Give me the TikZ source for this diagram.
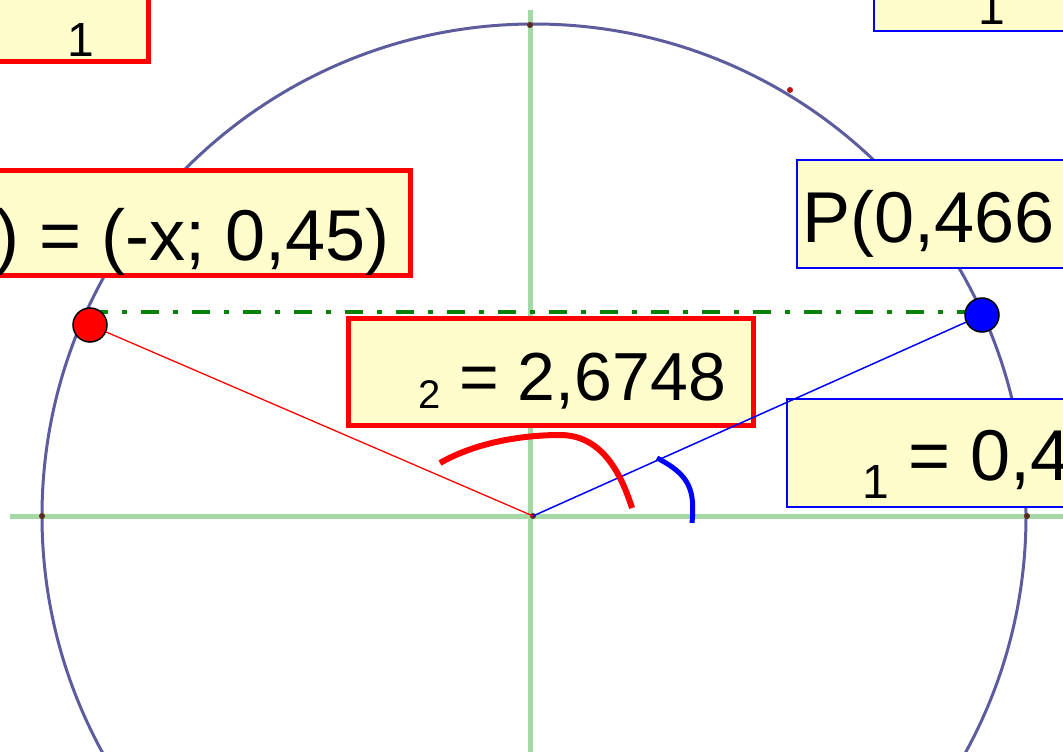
\documentclass[tikz,border=0pt]{standalone}
\usepackage{fontspec}
\setmainfont{Liberation Sans}
\usetikzlibrary{positioning}
\definecolor{paper}{HTML}{FFFDCC}
\definecolor{rim}{HTML}{5C5C9E}
\definecolor{axisgreen}{HTML}{A4D8A4}
\definecolor{chordgreen}{HTML}{0A820A}
\definecolor{tick}{HTML}{5A2A24}
\newcommand{\lowidx}[3]{\raisebox{-#1}{\fontsize{#2}{#2}\selectfont #3}}

\begin{document}
\begin{tikzpicture}[x=1pt,y=-1pt,
  rbox/.style={draw=red,line width=5pt,fill=paper,inner sep=0pt},
  bbox/.style={draw=blue,line width=2pt,fill=paper,inner sep=0pt},
  txt/.style={inner sep=0pt,font=\fontsize{72}{80}\selectfont},
  pnt/.style={circle,draw=black,line width=1.5pt,minimum size=34pt,inner sep=0pt},
  ptmark/.style={circle,fill=tick,minimum size=6pt,inner sep=0pt},
  axisline/.style={draw=axisgreen,line width=5pt},
  chordline/.style={draw=chordgreen,line width=4pt,dash pattern=on 18pt off 14pt on 5pt off 14pt}
]
\useasboundingbox (0,0) rectangle (1063,752);
\clip (0,0) rectangle (1063,752);

% axes and unit circle
\draw[axisline] (10,516) -- (1063,516);
\draw[axisline] (530,10) -- (530,752);
\draw[rim,line width=3pt] (534,516) circle[radius=492];
\node[ptmark] (top) at (530,25) {};
\node[ptmark] (left) at (42,516) {};
\node[ptmark] (right) at (1027,516) {};
\node[ptmark,fill=red!60!tick] (arcpt) at (790,90) {};
\node[ptmark] (O) at (533,516) {};

% the two points
\coordinate (rpc) at (90,325);
\coordinate (bpc) at (982,315);
\draw[chordline] (rpc |- 0,312) -- (bpc |- 0,312);

% labels
\node[rbox,minimum width=300pt,minimum height=150pt,anchor=south east] (boxa) at (150.5,64.5) {};
\node[txt,anchor=base west] (texta) at (67,57) {\fontsize{48}{50}\selectfont 1};
\node[bbox,minimum width=300pt,minimum height=100pt,anchor=south west] (boxb) at (873,32) {};
\node[txt,anchor=base west] (textb) at (978,25) {\fontsize{48}{50}\selectfont 1};
\node[rbox,minimum width=500pt,minimum height=105pt,anchor=north east] (boxc) at (412.5,167.5) {};
\node[txt,anchor=base east] (textc) at (390,260) {) = (-x; 0,45)};
\node[bbox,minimum width=400pt,minimum height=108pt,anchor=north west] (boxd) at (796,159) {};
\node[txt,anchor=base west] (textd) at (802,242) {P(0,466};
\node[rbox,minimum width=405pt,minimum height=107pt,anchor=north west] (boxe) at (345.5,315.5) {};
\node[txt,anchor=base west,font=\fontsize{68}{80}\selectfont] (texte) at (418,400) {\lowidx{8pt}{40}{2} = 2,6748};
\node[bbox,minimum width=400pt,minimum height=108pt,anchor=north west] (boxf) at (786,398) {};
\node[txt,anchor=base west] (textf) at (862,480) {\lowidx{18pt}{48}{1} = 0,4};

% radii and angle arcs
\node[pnt,fill=red] (rp) at (rpc) {};
\node[pnt,fill=blue] (bp) at (bpc) {};
\draw[red,line width=1.3pt] (O.center) -- (rp);
\draw[blue,line width=1.5pt] (O.center) -- (bp);
\draw[red,line width=6pt] (440,463) .. controls (480,440) and (530,435) .. (560,435)
  .. controls (600,435) and (620,470) .. (632,508);
\draw[blue,line width=5pt] (657,458) .. controls (690,475) and (695,490) .. (692,523);
\end{tikzpicture}
\end{document}
